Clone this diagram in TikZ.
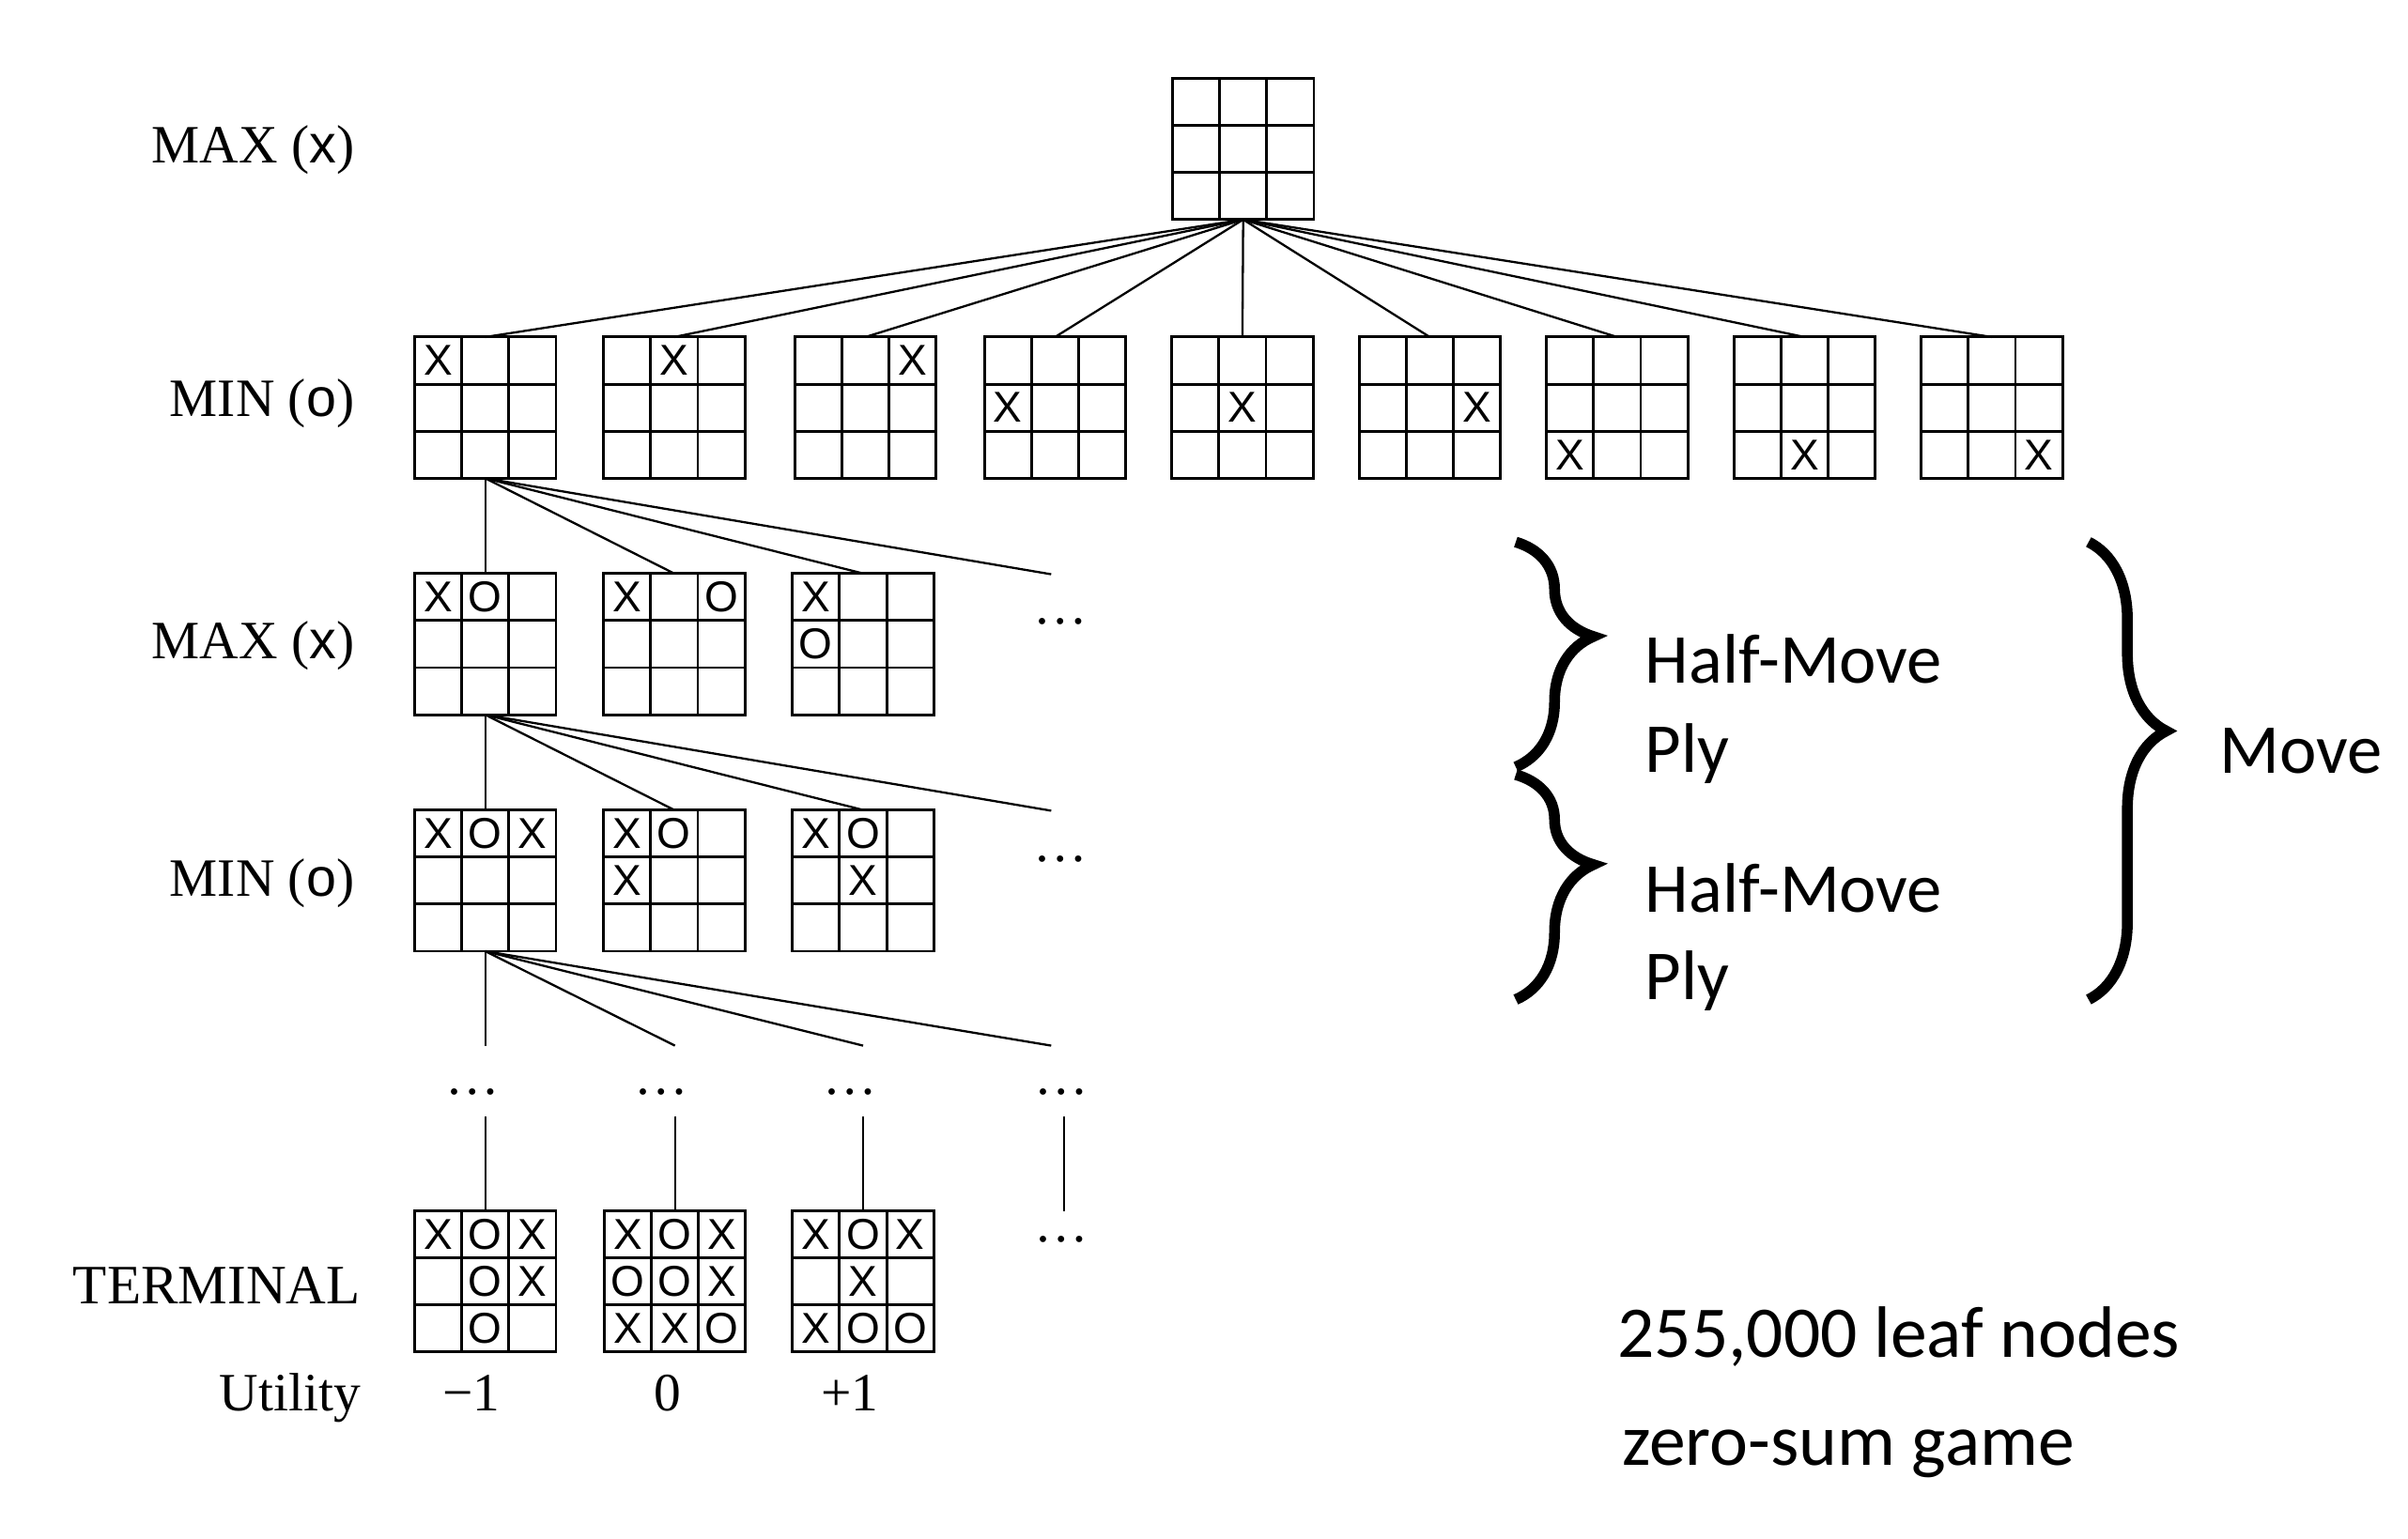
\documentclass[tikz,border=0pt]{standalone}
\usepackage{fontspec}
\setmainfont{Liberation Serif}
\newfontfamily\boardfont{Liberation Sans}
\newfontfamily\notefont{Carlito}
\usetikzlibrary{calc,decorations.pathreplacing}

\newcommand{\cellsize}{0.6133}
% empty 3x3 board
\newcommand{\tttboard}[2]{%
  \node[board] (#1) at (#2) {};
  \foreach \k in {1,2} {
    \draw[gridline] ($(#1.north west)!\k/3!(#1.north east)$) -- ($(#1.south west)!\k/3!(#1.south east)$);
    \draw[gridline] ($(#1.north west)!\k/3!(#1.south west)$) -- ($(#1.north east)!\k/3!(#1.south east)$);
  }
}
% symbols in the cells, as row/col/symbol
\newcommand{\tttmarks}[2]{%
  \foreach \rr/\cc/\ss in {#2}
    \node[sym] at ($(#1)+({(\cc-2)*\cellsize},{(2-\rr)*\cellsize})$) {\ss};
}

\begin{document}
\begin{tikzpicture}[
        board/.style={draw, line width=1pt, minimum size=1.84cm, inner sep=0pt, outer sep=0pt},
        gridline/.style={line width=1pt},
        sym/.style={font=\boardfont\fontsize{16}{16}\selectfont, inner sep=0pt},
        link/.style={line width=0.8pt},
        plylabel/.style={anchor=base east, inner sep=0pt, font=\fontsize{20}{24}\selectfont},
        ellip/.style={inner sep=0pt, font=\fontsize{20}{24}\selectfont},
        utilval/.style={anchor=base, inner sep=0pt, font=\fontsize{20}{24}\selectfont},
        sidenote/.style={anchor=base west, inner sep=0pt, font=\notefont\fontsize{26}{30}\selectfont},
        bignote/.style={anchor=base west, inner sep=0pt, font=\notefont\fontsize{27}{31}\selectfont},
        bigbrace/.style={decorate, decoration={brace, amplitude=1.01cm, aspect=#1}, line width=4pt}
    ]
    \useasboundingbox (0,0) rectangle (31.36,-20.04);

    % Row labels
    \node[plylabel] (lab1) at (4.62,-2.12) {MAX ({\boardfont x})};
    \node[plylabel] (lab2) at (4.62,-5.42) {MIN ({\boardfont o})};
    \node[plylabel] (lab3) at (4.62,-8.58) {MAX ({\boardfont x})};
    \node[plylabel] (lab4) at (4.62,-11.68) {MIN ({\boardfont o})};
    \node[plylabel, font=\fontsize{20.6}{24}\selectfont] (lab5) at (4.70,-16.98) {TERMINAL};
    \node[plylabel] (lab6) at (4.70,-18.38) {Utility};

    % Root
    \tttboard{root}{16.19,-1.94}

    % First move of x
    \tttboard{m1}{6.32,-5.31}  \tttmarks{m1}{1/1/X}
    \tttboard{m2}{8.78,-5.31}  \tttmarks{m2}{1/2/X}
    \tttboard{m3}{11.27,-5.31} \tttmarks{m3}{1/3/X}
    \tttboard{m4}{13.74,-5.31} \tttmarks{m4}{2/1/X}
    \tttboard{m5}{16.18,-5.31} \tttmarks{m5}{2/2/X}
    \tttboard{m6}{18.62,-5.31} \tttmarks{m6}{2/3/X}
    \tttboard{m7}{21.06,-5.31} \tttmarks{m7}{3/1/X}
    \tttboard{m8}{23.50,-5.31} \tttmarks{m8}{3/2/X}
    \tttboard{m9}{25.94,-5.31} \tttmarks{m9}{3/3/X}

    % Reply of o
    \tttboard{x1}{6.32,-8.39}  \tttmarks{x1}{1/1/X,1/2/O}
    \tttboard{x2}{8.78,-8.39}  \tttmarks{x2}{1/1/X,1/3/O}
    \tttboard{x3}{11.24,-8.39} \tttmarks{x3}{1/1/X,2/1/O}
    \node[ellip] (dx) at (13.81,-8.1) {\ldots};

    % Second move of x
    \tttboard{n1}{6.32,-11.47}  \tttmarks{n1}{1/1/X,1/2/O,1/3/X}
    \tttboard{n2}{8.78,-11.47}  \tttmarks{n2}{1/1/X,1/2/O,2/1/X}
    \tttboard{n3}{11.24,-11.47} \tttmarks{n3}{1/1/X,1/2/O,2/2/X}
    \node[ellip] (dn) at (13.81,-11.19) {\ldots};

    % Gap rows
    \node[ellip] (d1) at (6.16,-14.22) {\ldots};
    \node[ellip] (d2) at (8.61,-14.22) {\ldots};
    \node[ellip] (d3) at (11.07,-14.22) {\ldots};
    \node[ellip] (d4) at (13.82,-14.22) {\ldots};

    % Terminal states
    \tttboard{t1}{6.32,-16.69}  \tttmarks{t1}{1/1/X,1/2/O,1/3/X,2/2/O,2/3/X,3/2/O}
    \tttboard{t2}{8.79,-16.69}  \tttmarks{t2}{1/1/X,1/2/O,1/3/X,2/1/O,2/2/O,2/3/X,3/1/X,3/2/X,3/3/O}
    \tttboard{t3}{11.24,-16.69} \tttmarks{t3}{1/1/X,1/2/O,1/3/X,2/2/X,3/1/X,3/2/O,3/3/O}
    \node[ellip] (dt) at (13.82,-16.14) {\ldots};

    % Utility values
    \node[utilval] (u1) at (6.14,-18.38) {−1};
    \node[utilval] (u2) at (8.70,-18.38) {0};
    \node[utilval] (u3) at (11.07,-18.38) {+1};

    % Free ends of the tree
    \coordinate (xe) at (13.69,-7.48);
    \coordinate (ne) at (13.69,-10.56);
    \coordinate (g1) at (6.32,-13.62);
    \coordinate (g2) at (8.79,-13.62);
    \coordinate (g3) at (11.24,-13.62);
    \coordinate (g4) at (13.69,-13.62);
    \coordinate (h1) at (6.32,-14.54);
    \coordinate (h2) at (8.79,-14.54);
    \coordinate (h3) at (11.24,-14.54);
    \coordinate (h4) at (13.86,-14.54);
    \coordinate (h5) at (13.86,-15.78);

    % Tree edges
    \foreach \i in {1,...,9} \draw[link] (root.south) -- (m\i.north);
    \foreach \i in {1,2,3} \draw[link] (m1.south) -- (x\i.north);
    \draw[link] (m1.south) -- (xe);
    \foreach \i in {1,2,3} \draw[link] (x1.south) -- (n\i.north);
    \draw[link] (x1.south) -- (ne);
    \foreach \i in {1,...,4} \draw[link] (n1.south) -- (g\i);
    \foreach \i in {1,2,3} \draw[link] (h\i) -- (t\i.north);
    \draw[link] (h4) -- (h5);

    % Braces
    \coordinate (b1a) at (19.74,-7.06);
    \coordinate (b1b) at (19.74,-9.99);
    \coordinate (b2a) at (19.74,-10.09);
    \coordinate (b2b) at (19.74,-13.02);
    \coordinate (b3a) at (27.2,-7.06);
    \coordinate (b3b) at (27.2,-13.02);
    \draw[bigbrace=0.42] (b1a) -- (b1b);
    \draw[bigbrace=0.40] (b2a) -- (b2b);
    \draw[bigbrace=0.413] (b3a) -- (b3b);

    \node[sidenote] (hm1) at (21.42,-8.90) {Half-Move};
    \node[sidenote] (ply1) at (21.42,-10.06) {Ply};
    \node[sidenote] (hm2) at (21.42,-11.88) {Half-Move};
    \node[sidenote] (ply2) at (21.42,-13.02) {Ply};
    \node[sidenote] (mv) at (28.9,-10.07) {Move};

    % Notes
    \node[bignote] (leaves) at (21.06,-17.68) {255,000 leaf nodes};
    \node[bignote] (zsum) at (21.12,-19.08) {zero-sum game};

\end{tikzpicture}
\end{document}
